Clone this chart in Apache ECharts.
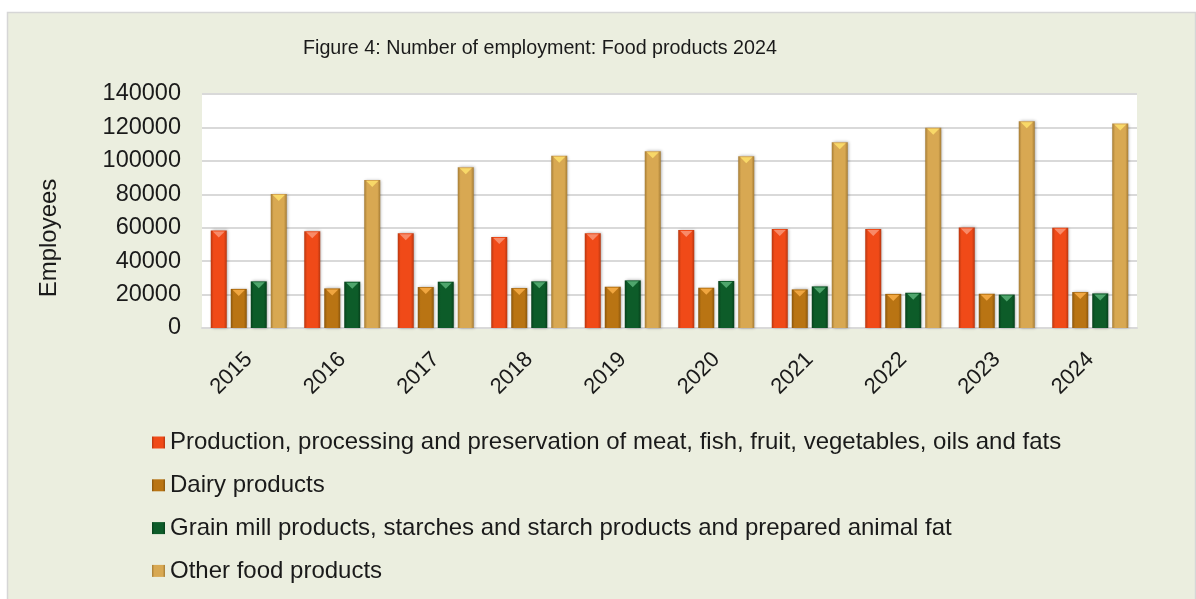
<!DOCTYPE html>
<html>
<head>
<meta charset="utf-8">
<script src="https://cdn.jsdelivr.net/npm/echarts@6/dist/echarts.min.js"></script>
<style>
  html, body { margin: 0; padding: 0; background: #ffffff; }
  #chart { width: 1196px; height: 599px; }
</style>
</head>
<body>
<div id="chart"></div>
<script>
// Employment in food product manufacturing, by sub-industry
const years = ['2015', '2016', '2017', '2018', '2019', '2020', '2021', '2022', '2023', '2024'];
const meatFishFruitVeg = [58400, 57900, 56700, 54500, 56700, 58700, 59300, 59300, 60200, 60000];
const dairyProducts = [23400, 23700, 24500, 23900, 24700, 24100, 23100, 20400, 20500, 21500];
const grainMillProducts = [27900, 27700, 27700, 27900, 28500, 28100, 24900, 21100, 20000, 20700];
const otherFoodProducts = [80200, 88600, 96200, 103000, 105700, 102700, 111100, 119800, 123700, 122300];

const seriesNames = [
  'Production, processing and preservation of meat, fish, fruit, vegetables, oils and fats',
  'Dairy products',
  'Grain mill products, starches and starch products and prepared animal fat',
  'Other food products'
];
const seriesData = [meatFishFruitVeg, dairyProducts, grainMillProducts, otherFoodProducts];

// body colour, edge shade, bevel highlight for each series
const palette = [
  { base: '#f04a18', edge: '#b8360f', top: '#f88a68' },
  { base: '#b97413', edge: '#8a560c', top: '#f0a640' },
  { base: '#0d5c29', edge: '#07401b', top: '#4fa56c' },
  { base: '#d8a852', edge: '#a57c35', top: '#f8d868' }
];

const font = 'Liberation Sans, Arial, sans-serif';
const textColor = '#1a1a1a';
const barWidth = 16;
const barGap = '25%';
const barCategoryGap = '18.7%';

function bodyFill(p) {
  return new echarts.graphic.LinearGradient(0, 0, 1, 0, [
    { offset: 0, color: p.edge },
    { offset: 0.18, color: p.base },
    { offset: 0.82, color: p.base },
    { offset: 1, color: p.edge }
  ]);
}

const series = [];
seriesNames.forEach((name, i) => {
  series.push({
    name: name,
    type: 'bar',
    data: seriesData[i],
    barWidth: barWidth,
    barGap: barGap,
    barCategoryGap: barCategoryGap,
    itemStyle: {
      color: bodyFill(palette[i]),
      shadowColor: 'rgba(0,0,0,0.35)',
      shadowBlur: 3,
      shadowOffsetX: 1,
      shadowOffsetY: 0
    },
    emphasis: { disabled: true }
  });
});
// bevelled cap on top of each bar
seriesNames.forEach((name, i) => {
  series.push({
    name: name + ' cap',
    type: 'pictorialBar',
    data: seriesData[i],
    barWidth: barWidth,
    barGap: barGap,
    barCategoryGap: barCategoryGap,
    symbol: 'path://M0,0L2,0L1,1Z',
    symbolSize: [12, 6],
    symbolPosition: 'end',
    symbolOffset: [0, 1],
    itemStyle: { color: palette[i].top },
    silent: true,
    z: 3
  });
});

const chart = echarts.init(document.getElementById('chart'), null, { renderer: 'canvas' });
chart.setOption({
  backgroundColor: '#ffffff',
  animation: false,
  graphic: [
    {
      type: 'rect',
      z: -10,
      shape: { x: 7.5, y: 12.5, width: 1188, height: 600 },
      style: { fill: '#ebeedf', stroke: '#d6d6d6', lineWidth: 1.5 }
    },
    {
      // value-axis title
      type: 'text',
      x: 49,
      y: 238,
      rotation: Math.PI / 2,
      style: {
        text: 'Employees',
        fontFamily: font,
        fontSize: 24,
        fill: textColor,
        align: 'center',
        verticalAlign: 'middle'
      }
    }
  ],
  title: {
    text: 'Figure 4: Number of employment: Food products 2024',
    left: 298,
    top: 34,
    textStyle: { fontFamily: font, fontSize: 19.7, fontWeight: 'normal', color: textColor }
  },
  legend: {
    data: seriesNames,
    orient: 'vertical',
    left: 152,
    top: 430.5,
    padding: 0,
    itemWidth: 13,
    itemHeight: 12,
    itemGap: 18.8,
    icon: 'rect',
    selectedMode: false,
    textStyle: { fontFamily: font, fontSize: 24, lineHeight: 24, color: textColor }
  },
  grid: {
    left: 202,
    right: 59,
    top: 94,
    bottom: 271,
    show: true,
    backgroundColor: '#ffffff',
    borderWidth: 0
  },
  xAxis: {
    type: 'category',
    data: years,
    axisLine: { show: true, lineStyle: { color: '#d9d9d9', width: 2 } },
    axisTick: { show: false },
    axisLabel: {
      rotate: 45,
      margin: 28,
      fontFamily: font,
      fontSize: 22,
      color: textColor
    }
  },
  yAxis: {
    type: 'value',
    min: 0,
    max: 140000,
    interval: 20000,
    axisLine: { show: false },
    axisTick: { show: false },
    splitLine: { lineStyle: { color: '#d9d9d9', width: 2 } },
    axisLabel: {
      margin: 21,
      fontFamily: font,
      fontSize: 23.5,
      color: textColor,
      padding: [3, 0, 0, 0],
      formatter: (v) => String(v)
    }
  },
  series: series
});
</script>
</body>
</html>
